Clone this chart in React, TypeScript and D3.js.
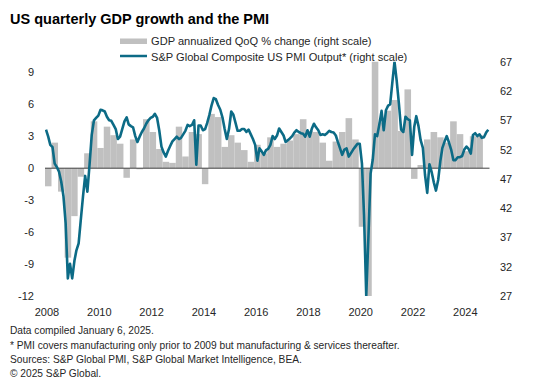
import React, { useEffect, useRef } from 'react';
import * as d3 from 'd3';

// GDP annualized QoQ % change, 2008Q1 .. 2024Q3
const gdpValues = [
  -1.7, 2.4, -2.2, -8.4,
  -4.5, -0.8, 1.4, 4.4,
  1.9, 3.9, 3.1, 2.3,
  -0.9, 2.7, -0.1, 4.6,
  3.4, 1.8, 0.6, 0.5,
  3.9, 1.1, 3.4, 3.2,
  -1.5, 5.1, 4.8, 2.0,
  3.1, 2.4, 1.7, 0.6,
  2.2, 1.4, 2.9, 2.0,
  2.3, 2.6, 3.2, 4.6,
  3.5, 3.4, 2.4, 0.7,
  2.5, 3.4, 4.7, 2.7,
  -5.5, -28.0, 34.8, 4.3,
  5.4, 6.4, 3.5, 7.4,
  -1.0, 0.3, 2.7, 3.4,
  2.9, 2.4, 4.4, 3.2,
  1.6, 3.0, 3.1,
];

// PMI output index, monthly Jan 2008 .. Dec 2024
const pmiValues = [
  55.4, 54.2, 52.8, 52.4, 49.6, 49.0, 48.2, 46.5, 44.0, 39.5, 30.0, 32.5, // 2008
  30.0, 33.0, 34.8, 36.0, 40.0, 44.0, 47.5, 44.8, 49.5, 54.5, 57.0, 57.4, // 2009
  57.8, 58.8, 58.7, 58.5, 57.6, 57.0, 56.9, 56.2, 55.5, 53.8, 54.2, 55.5, // 2010
  56.8, 57.5, 56.3, 56.0, 55.8, 54.3, 53.3, 54.2, 55.0, 55.6, 56.4, 57.0, // 2011
  57.4, 57.6, 58.1, 57.4, 55.3, 52.5, 51.5, 50.8, 51.8, 52.6, 53.4, 53.8, // 2012
  54.2, 53.8, 54.0, 54.6, 55.2, 56.2, 56.0, 56.2, 57.0, 49.4, 56.1, 56.1, // 2013
  55.3, 55.5, 56.5, 57.9, 59.5, 60.8, 60.6, 59.6, 58.8, 57.5, 55.5, 53.8, // 2014
  55.5, 58.5, 58.0, 56.6, 55.2, 55.2, 55.5, 55.5, 55.0, 55.4, 54.6, 53.8, // 2015
  52.8, 50.1, 52.2, 51.7, 51.1, 51.9, 52.1, 52.8, 54.3, 53.8, 54.4, 55.6, // 2016
  55.0, 54.4, 53.3, 53.6, 53.9, 54.3, 54.9, 55.3, 55.0, 54.8, 54.7, 54.2, // 2017
  55.3, 54.2, 55.5, 56.4, 55.8, 55.3, 54.5, 54.6, 54.5, 54.8, 55.2, 55.0, // 2018
  54.9, 54.4, 53.3, 52.2, 51.1, 52.0, 52.2, 50.8, 51.4, 52.0, 52.5, 53.0, // 2019
  53.0, 49.6, 40.9, 27.0, 37.0, 47.9, 50.3, 54.6, 54.3, 56.3, 58.6, 55.3, // 2020
  58.7, 59.5, 59.7, 63.5, 67.0, 63.7, 59.9, 55.4, 55.0, 57.6, 57.2, 57.0, // 2021
  51.1, 55.9, 57.7, 56.0, 53.6, 52.3, 47.7, 44.6, 49.5, 48.2, 46.4, 45.0, // 2022
  46.8, 50.1, 52.3, 53.4, 54.3, 53.2, 52.0, 50.2, 50.2, 50.7, 50.7, 50.9, // 2023
  52.0, 52.5, 52.1, 51.3, 54.5, 54.8, 54.3, 54.6, 54.0, 54.1, 54.9, 55.4, // 2024
];

const yearLabels = [2008, 2010, 2012, 2014, 2016, 2018, 2020, 2022, 2024];
const leftTicks = [-12, -9, -6, -3, 0, 3, 6, 9];
const rightTicks = [27, 32, 37, 42, 47, 52, 57, 62, 67];

const legendLabels = [
  'GDP annualized QoQ % change (right scale)',
  'S&P Global Composite US PMI Output* (right scale)',
];

const footnotes = [
  'Data compiled January 6, 2025.',
  '* PMI covers manufacturing only prior to 2009 but manufacturing & services thereafter.',
  'Sources: S&P Global PMI, S&P Global Market Intelligence, BEA.',
  '\u00A9 2025 S&P Global.',
];

const FONT = '"Liberation Sans", Arial, sans-serif';
const BAR_COLOR = '#c0c0c0';
const LINE_COLOR = '#0c6b86';

const GdpPmiChart = () => {
  const ref = useRef(null);

  useEffect(() => {
    const svg = d3.select(ref.current);
    svg.selectAll('*').remove();

    const start = new Date(2008, 0, 1);
    const end = new Date(2025, 0, 1);
    const top = 61.7;
    const bottom = 296;

    const x = d3.scaleTime().domain([start, end]).range([45, 489.5]);
    const yLeft = d3.scaleLinear().domain([-12, 10]).range([bottom, top]);
    const yRight = d3.scaleLinear().domain([27, 67]).range([bottom, top]);

    svg.append('defs')
      .append('clipPath')
      .attr('id', 'plot-clip')
      .append('rect')
      .attr('x', x.range()[0])
      .attr('y', top)
      .attr('width', x.range()[1] - x.range()[0])
      .attr('height', bottom - top);

    // title
    svg.append('text')
      .attr('x', 10)
      .attr('y', 23.5)
      .style('font-family', FONT)
      .style('font-size', '14.5px')
      .style('font-weight', 'bold')
      .attr('fill', '#000')
      .text('US quarterly GDP growth and the PMI');

    // legend
    const legend = svg.append('g');
    legend.append('rect')
      .attr('x', 120).attr('y', 38.5)
      .attr('width', 27).attr('height', 5.5)
      .attr('fill', BAR_COLOR);
    legend.append('line')
      .attr('x1', 120).attr('x2', 147)
      .attr('y1', 56).attr('y2', 56)
      .attr('stroke', LINE_COLOR)
      .attr('stroke-width', 2.5);
    legend.selectAll('text.leg')
      .data(legendLabels)
      .enter()
      .append('text')
      .attr('class', 'leg')
      .attr('x', 151)
      .attr('y', (d, i) => 45.3 + i * 15.2)
      .style('font-family', FONT)
      .style('font-size', '11.1px')
      .attr('fill', '#262626')
      .text(d => d);

    // GDP bars
    const quarters = gdpValues.map((v, i) => ({
      from: d3.timeMonth.offset(start, i * 3),
      to: d3.timeMonth.offset(start, i * 3 + 3),
      v,
    }));

    svg.append('g')
      .attr('clip-path', 'url(#plot-clip)')
      .selectAll('rect')
      .data(quarters)
      .enter()
      .append('rect')
      .attr('x', d => x(d.from))
      .attr('width', d => x(d.to) - x(d.from))
      .attr('y', d => yLeft(Math.max(0, d.v)))
      .attr('height', d => Math.abs(yLeft(d.v) - yLeft(0)))
      .attr('fill', BAR_COLOR);

    // zero line
    svg.append('line')
      .attr('x1', x(start)).attr('x2', x(end))
      .attr('y1', yLeft(0)).attr('y2', yLeft(0))
      .attr('stroke', '#404040')
      .attr('stroke-width', 1);

    // PMI line
    const months = pmiValues.map((v, i) => ({
      date: d3.timeDay.offset(d3.timeMonth.offset(start, i), 14),
      v,
    }));
    const line = d3.line()
      .x(d => x(d.date))
      .y(d => yRight(d.v));

    svg.append('path')
      .datum(months)
      .attr('clip-path', 'url(#plot-clip)')
      .attr('d', line)
      .attr('fill', 'none')
      .attr('stroke', LINE_COLOR)
      .attr('stroke-width', 2.6)
      .attr('stroke-linejoin', 'round');

    // axis labels
    svg.append('g')
      .selectAll('text')
      .data(leftTicks)
      .enter()
      .append('text')
      .attr('x', 34)
      .attr('y', d => yLeft(d))
      .attr('dy', '0.36em')
      .attr('text-anchor', 'end')
      .style('font-family', FONT)
      .style('font-size', '11px')
      .attr('fill', '#262626')
      .text(d => d);

    svg.append('g')
      .selectAll('text')
      .data(rightTicks)
      .enter()
      .append('text')
      .attr('x', 500)
      .attr('y', d => yRight(d))
      .attr('dy', '0.36em')
      .style('font-family', FONT)
      .style('font-size', '11px')
      .attr('fill', '#262626')
      .text(d => d);

    svg.append('g')
      .selectAll('text')
      .data(yearLabels)
      .enter()
      .append('text')
      .attr('x', d => x(new Date(d, 0, 1)) + 2)
      .attr('y', 315.5)
      .attr('text-anchor', 'middle')
      .style('font-family', FONT)
      .style('font-size', '11px')
      .attr('fill', '#262626')
      .text(d => d);

    // footnotes
    svg.append('g')
      .selectAll('text')
      .data(footnotes)
      .enter()
      .append('text')
      .attr('x', 10)
      .attr('y', (d, i) => [333.5, 348.5, 362.5, 377][i])
      .style('font-family', FONT)
      .style('font-size', '10.2px')
      .attr('fill', '#262626')
      .text(d => d);
  }, []);

  return (
    <div style={{ position: 'absolute', left: 0, top: 0, background: '#fff' }}>
      <svg ref={ref} width={536} height={391} style={{ display: 'block' }} />
    </div>
  );
};

export default function App() {
  return <GdpPmiChart />;
}
